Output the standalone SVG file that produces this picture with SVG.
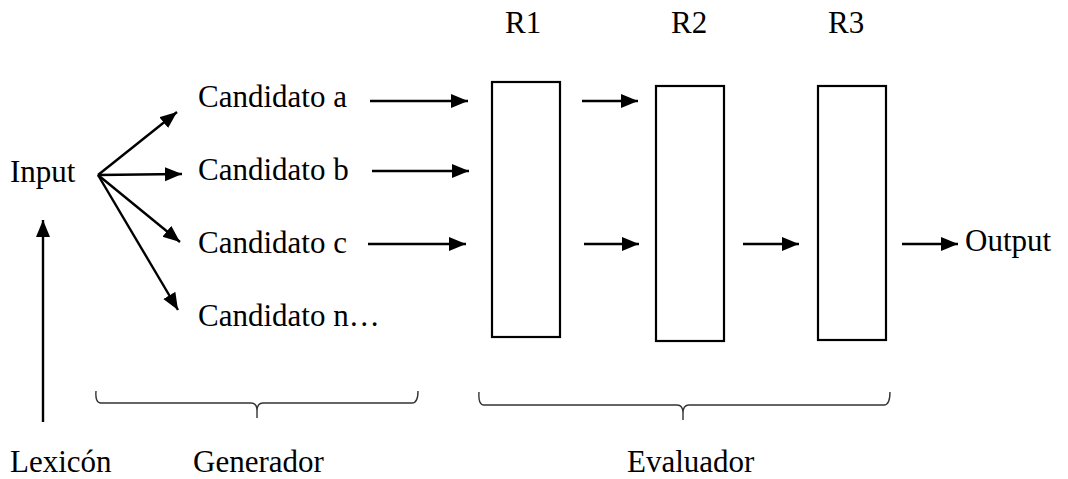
<svg xmlns="http://www.w3.org/2000/svg" width="1068" height="479" viewBox="0 0 1068 479">
<style>
text{font-family:'Liberation Serif','DejaVu Serif',serif;font-size:31px;fill:#000}
.box{fill:#fff;stroke:#000;stroke-width:2.2}
.arr{stroke:#000;stroke-width:2.4;fill:none;marker-end:url(#ah)}
.brace{stroke:#333;stroke-width:1.4;fill:none}
</style>
<defs>
<marker id="ah" markerUnits="userSpaceOnUse" markerWidth="18" markerHeight="15" refX="17" refY="7" orient="auto">
<path d="M0,0 L17,7 L0,14 z" fill="#000"/>
</marker>
</defs>
<rect width="1068" height="479" fill="#fff"/>
<g font-family="Liberation Serif, DejaVu Serif, serif">
<g id="input"><text x="10" y="182">Input</text></g>
<g id="lexicon"><text x="10" y="472">Lexicón</text></g>
<g id="cand-a"><text x="198" y="107">Candidato a</text></g>
<g id="cand-b"><text x="198" y="180">Candidato b</text></g>
<g id="cand-c"><text x="198" y="253">Candidato c</text></g>
<g id="cand-n"><text x="198" y="326">Candidato n…</text></g>
<g id="r1"><text x="505" y="33">R1</text><rect class="box" x="492" y="82" width="68" height="255"/></g>
<g id="r2"><text x="671" y="33">R2</text><rect class="box" x="656" y="86" width="68" height="255"/></g>
<g id="r3"><text x="828" y="33">R3</text><rect class="box" x="818" y="86" width="68" height="254"/></g>
<g id="output"><text x="965" y="251">Output</text></g>
<g id="generador"><text x="193" y="472">Generador</text><path class="brace" d="M96,391 Q95,403 101,403 L251,403 Q257,403 257,411 L257,418 M257,411 Q257,403 263,403 L412,403 Q418,403 418,391"/></g>
<g id="evaluador"><text x="627" y="472">Evaluador</text><path class="brace" d="M479,392 Q478,405 484,405 L677,405 Q683,405 683,413 L683,420 M683,413 Q683,405 689,405 L884,405 Q890,405 890,392"/></g>
</g>
<g id="connectors">
<line class="arr" x1="43" y1="422" x2="43" y2="220"/>
<line class="arr" x1="98" y1="175" x2="177" y2="112"/>
<line class="arr" x1="98" y1="175" x2="182" y2="174"/>
<line class="arr" x1="98" y1="175" x2="180" y2="242"/>
<line class="arr" x1="98" y1="175" x2="178" y2="310"/>
<line class="arr" x1="370" y1="101" x2="468" y2="101"/>
<line class="arr" x1="372" y1="171" x2="469" y2="171"/>
<line class="arr" x1="368" y1="244" x2="466" y2="244"/>
<line class="arr" x1="582" y1="101" x2="638" y2="101"/>
<line class="arr" x1="584" y1="244" x2="639" y2="244"/>
<line class="arr" x1="743" y1="244" x2="799" y2="244"/>
<line class="arr" x1="902" y1="244" x2="958" y2="244"/>
</g>
</svg>
